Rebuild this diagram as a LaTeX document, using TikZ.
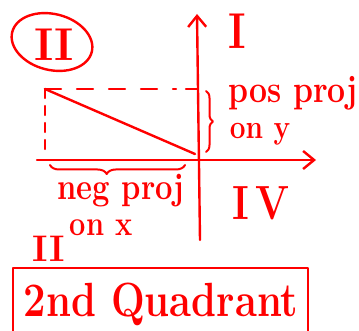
\documentclass[tikz,border=0pt]{standalone}
\usepackage{fontspec}
\usepackage{graphicx}
\usepackage{xcolor}
\usetikzlibrary{arrows.meta,calc,positioning}
\usetikzlibrary{decorations.pathreplacing}
\definecolor{penred}{RGB}{255,0,0}
\newcommand{\fsz}[1]{\fontsize{#1}{#1}\selectfont\bfseries}
\newcommand{\tall}[1]{\scalebox{1}[1.2]{\bfseries #1}}
\tikzset{
  pen/.style={penred,line width=2.4pt,line cap=round,line join=round},
  scrawl/.style={text=penred,inner sep=0pt},
  axis/.style={pen,-{Straight Barb[length=11pt,width=18pt,line width=2.4pt]}},
}

\begin{document}
\begin{tikzpicture}[x=1pt,y=-1pt]
      \useasboundingbox (0,0) rectangle (359,331);
      \def\ox{199}
      \def\oy{160}
      \def\px{45}
      \def\py{89}
      \coordinate (O) at (\ox,\oy);
      \coordinate (xl) at (37,\oy);
      \coordinate (xr) at (316,\oy);
      \coordinate (yt) at (197,14);
      \coordinate (yb) at (200,240);
      \coordinate (P) at (\px,\py);
      \coordinate (Pd) at (176,\py);
      \coordinate (Pt) at (186,\py);
      \coordinate (Py) at (197,\py);
      \coordinate (Px) at (\px,156);
      \coordinate (Pe) at (195,154);
      %Draw the axis
      \draw[axis] (xl) -- (xr);
      \draw[axis] (yb) -- (yt);
      %Draw lines
      \draw[pen,dash pattern=on 16pt off 16pt] (P) -- (Pd);
      \draw[pen] (Pt) -- (Py);
      \draw[pen,dash pattern=on 9pt off 8pt] (P) -- (Px);
      \draw[pen] (P) -- (Pe);
      %Draw braces
      \draw[pen,line width=2pt,decorate,decoration={brace,amplitude=7pt,aspect=0.5}]
        (206,91) -- (206,152);
      \draw[pen,line width=2pt,decorate,decoration={brace,amplitude=9pt,aspect=0.58}]
        (185,165) -- (50,165);
      %Draw labels
      \draw[pen] (52,42) ellipse [x radius=41, y radius=28, rotate=-14];
      \node[scrawl,font=\fsz{46}] (quad) at (54,45) {II};
      \node[scrawl,font=\fsz{42}] (one) at (237,31) {\tall{I}};
      \node[scrawl,font=\fsz{40}] (four) at (261,203) {\tall{I\,V}};
      \node[scrawl,font=\fsz{32}] (posproj) at (293,93) {\tall{pos proj}};
      \node[scrawl,font=\fsz{28}] (ony) at (260,134) {\tall{on y}};
      \node[scrawl,font=\fsz{31}] (negproj) at (121,191) {\tall{neg proj}};
      \node[scrawl,font=\fsz{29}] (onx) at (101,228) {\tall{on x}};
      \node[scrawl,font=\fsz{37}] (small) at (49,249) {II};
      %Draw the box
      \coordinate (bl) at (13,333);
      \coordinate (tl) at (13,268);
      \coordinate (tr) at (308,268);
      \coordinate (br) at (308,333);
      \draw[pen] (bl) -- (tl) -- (tr) -- (br);
      \node[scrawl,font=\fsz{40}] (quadrant) at (161,304) {\tall{2nd Quadrant}};
    \end{tikzpicture}
\end{document}
